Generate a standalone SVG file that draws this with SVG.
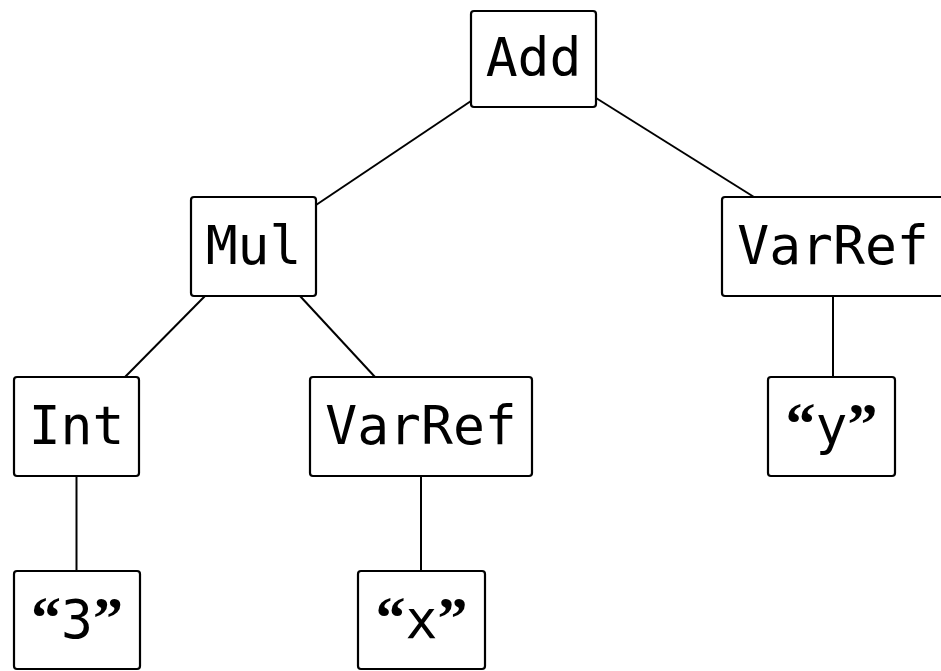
<svg xmlns="http://www.w3.org/2000/svg" width="941" height="671" viewBox="0 0 941 671">
<style>
.box{fill:#fff;stroke:#000;stroke-width:2.2}
.lbl{font-family:"DejaVu Sans Mono","Liberation Mono",monospace;font-size:53px;fill:#000;text-anchor:middle}
.q{font-family:"Liberation Serif",serif;font-weight:bold;font-size:60px}
.edge{stroke:#000;stroke-width:2;fill:none}
</style>
<rect width="941" height="671" fill="#fff"/>
<g id="connectors">
<line class="edge" x1="471" y1="101" x2="316" y2="205"/>
<line class="edge" x1="596" y1="98" x2="754" y2="197"/>
<line class="edge" x1="205" y1="296" x2="125" y2="377"/>
<line class="edge" x1="300" y1="296" x2="375" y2="377"/>
<line class="edge" x1="76.5" y1="476" x2="76.5" y2="571"/>
<line class="edge" x1="421" y1="476" x2="421" y2="571"/>
<line class="edge" x1="833" y1="296" x2="833" y2="377"/>
</g>
<g id="add"><rect class="box" x="471" y="11" width="125" height="96" rx="3"/><text class="lbl" x="533.5" y="76">Add</text></g>
<g id="mul"><rect class="box" x="191" y="197" width="125" height="99" rx="3"/><text class="lbl" x="253.5" y="264">Mul</text></g>
<g id="varref-y"><rect class="box" x="722" y="197" width="222" height="99" rx="3"/><text class="lbl" x="833" y="264">VarRef</text></g>
<g id="int"><rect class="box" x="14" y="377" width="125" height="99" rx="3"/><text class="lbl" x="76.5" y="444">Int</text></g>
<g id="varref-x"><rect class="box" x="310" y="377" width="222" height="99" rx="3"/><text class="lbl" x="421" y="444">VarRef</text></g>
<g id="str-y"><rect class="box" x="768" y="377" width="127" height="99" rx="3"/><text class="lbl" x="831.5" y="444"><tspan class="q">“</tspan>y<tspan class="q">”</tspan></text></g>
<g id="str-3"><rect class="box" x="14" y="571" width="126" height="98" rx="3"/><text class="lbl" x="77" y="638"><tspan class="q">“</tspan>3<tspan class="q">”</tspan></text></g>
<g id="str-x"><rect class="box" x="358" y="571" width="127" height="98" rx="3"/><text class="lbl" x="421.5" y="638"><tspan class="q">“</tspan>x<tspan class="q">”</tspan></text></g>
</svg>
